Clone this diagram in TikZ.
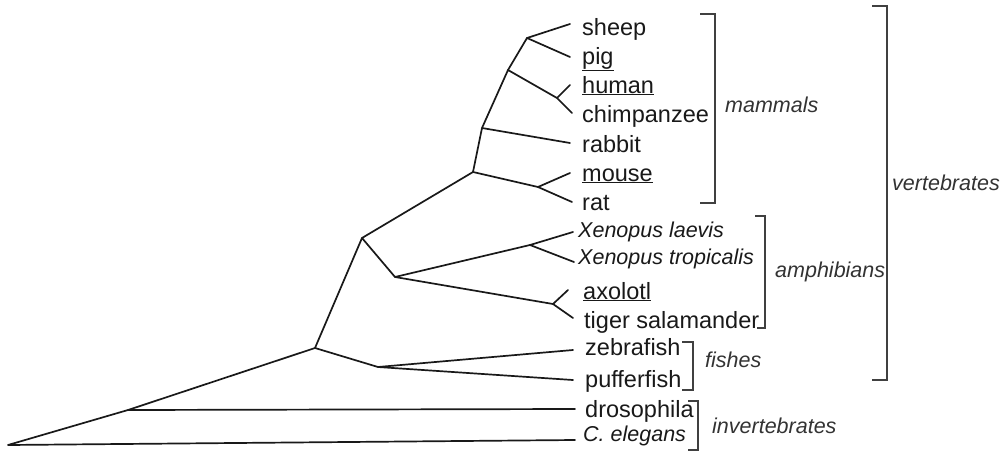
\documentclass[tikz,border=0pt]{standalone}
\usepackage{fontspec}
\setmainfont{Liberation Sans}
\begin{document}
\begin{tikzpicture}[x=1pt,y=-1pt,
  leaf/.style={anchor=base west,inner sep=0pt,font=\fontsize{23.5}{28}\selectfont,text=black!90},
  ileaf/.style={anchor=base west,inner sep=0pt,font=\fontsize{21.5}{26}\selectfont\itshape,text=black!90},
  grp/.style={anchor=base west,inner sep=0pt,font=\fontsize{21.5}{26}\selectfont\itshape,text=black!80},
  branch/.style={line width=1.7pt,black!90,line join=round,line cap=round},
  brack/.style={line width=1.6pt,black!75}]
\useasboundingbox (0,0) rectangle (1001,455);
% leaves
\node[leaf] (sheep) at (582,35) {sheep};
\node[leaf] (pig) at (582,64) {\underline{pig}};
\node[leaf] (human) at (582,93) {\underline{human}};
\node[leaf] (chimp) at (582,122) {chimpanzee};
\node[leaf] (rabbit) at (582,152) {rabbit};
\node[leaf] (mouse) at (582,181) {\underline{mouse}};
\node[leaf] (rat) at (582,210) {rat};
\node[ileaf] (xlae) at (578,237) {Xenopus laevis};
\node[ileaf] (xtro) at (578,264) {Xenopus tropicalis};
\node[leaf] (axo) at (583,299) {\underline{axolotl}};
\node[leaf] (tiger) at (584,328) {tiger salamander};
\node[leaf] (zebra) at (585,355) {zebrafish};
\node[leaf] (puffer) at (585,387) {pufferfish};
\node[leaf] (dros) at (585,417) {drosophila};
\node[ileaf] (cel) at (583,441) {C. elegans};
% tip ends
\coordinate (tsheep) at (570,24);
\coordinate (tpig) at (570,57);
\coordinate (thuman) at (570,85);
\coordinate (tchimp) at (572,113);
\coordinate (trabbit) at (570,143);
\coordinate (tmouse) at (570,173);
\coordinate (trat) at (572,202);
\coordinate (txlae) at (573,232);
\coordinate (txtro) at (574,262);
\coordinate (taxo) at (568,290);
\coordinate (ttiger) at (573,318);
\coordinate (tzebra) at (573,350);
\coordinate (tpuffer) at (573,380);
\coordinate (tdros) at (575,409);
\coordinate (tcel) at (575,440);
% internal nodes
\coordinate (root) at (8,445);
\coordinate (A) at (128,410);
\coordinate (B) at (315,348);
\coordinate (C) at (378,367);
\coordinate (D) at (362,238);
\coordinate (E) at (395,277);
\coordinate (F) at (530,245);
\coordinate (G) at (553,304);
\coordinate (H) at (473,172);
\coordinate (I) at (538,187);
\coordinate (J) at (482,128);
\coordinate (K) at (508,70);
\coordinate (L) at (557,98);
\coordinate (M) at (527,38);
% branches
\draw[branch] (tcel) -- (root) -- (A) -- (tdros);
\draw[branch] (A) -- (B) -- (C) -- (tzebra);
\draw[branch] (C) -- (tpuffer);
\draw[branch] (B) -- (D) -- (E) -- (F) -- (txlae);
\draw[branch] (F) -- (txtro);
\draw[branch] (E) -- (G) -- (taxo);
\draw[branch] (G) -- (ttiger);
\draw[branch] (D) -- (H) -- (I) -- (tmouse);
\draw[branch] (I) -- (trat);
\draw[branch] (H) -- (J) -- (trabbit);
\draw[branch] (J) -- (K) -- (L) -- (thuman);
\draw[branch] (L) -- (tchimp);
\draw[branch] (K) -- (M) -- (tsheep);
\draw[branch] (M) -- (tpig);
% brackets
\draw[brack] (700,14) -- (715,14) -- (715,203) -- (700,203);
\draw[brack] (755,216) -- (765,216) -- (765,328) -- (757,328);
\draw[brack] (872,6) -- (887,6) -- (887,380) -- (872,380);
\draw[brack] (682,342) -- (693,342) -- (693,390) -- (682,390);
\draw[brack] (688,401) -- (698,401) -- (698,450) -- (688,450);
% group labels
\node[grp] (mammals) at (725,112) {mammals};
\node[grp] (amph) at (775,277) {amphibians};
\node[grp] (vert) at (892,190) {vertebrates};
\node[grp] (fishes) at (705,367) {fishes};
\node[grp] (invert) at (712,433) {invertebrates};
\end{tikzpicture}
\end{document}
